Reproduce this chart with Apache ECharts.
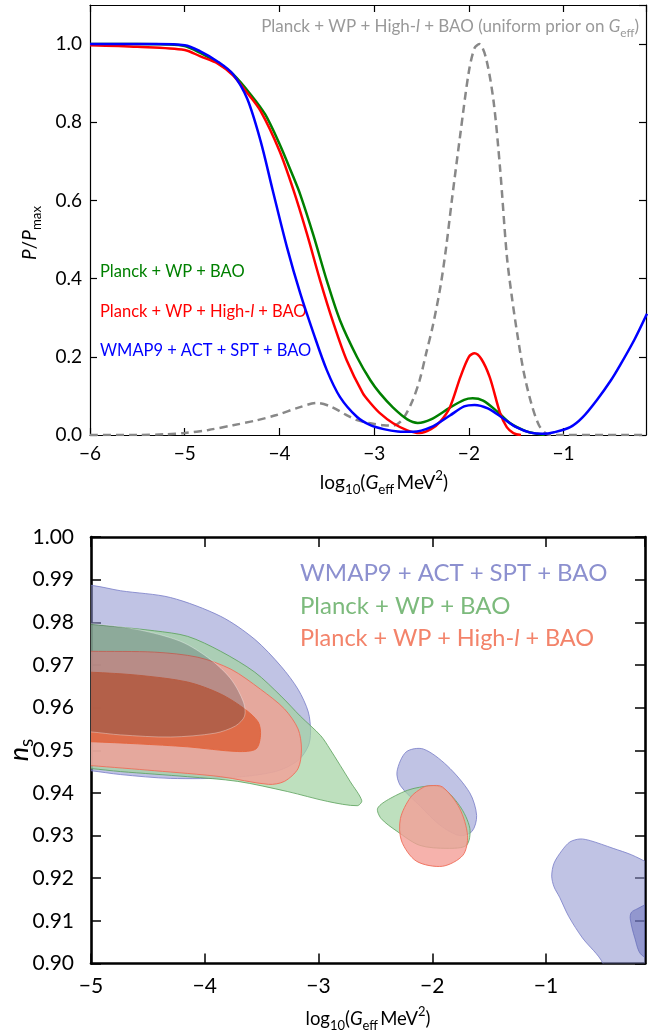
<!DOCTYPE html>
<html>
<head>
<meta charset="utf-8">
<script src="https://cdn.jsdelivr.net/npm/echarts@6/dist/echarts.min.js"></script>
<style>
  html, body { margin: 0; padding: 0; background: #fff; }
  #chart { width: 659px; height: 1033px; }
</style>
</head>
<body>
<div id="chart"></div>
<script>
// top panel: marginalised posteriors, [log10 Geff, P/Pmax]
const planckBao = [
  [-6, 1.0], [-5.5, 1.0], [-5.2, 0.999], [-5.0, 0.995], [-4.84, 0.978], [-4.65, 0.952],
  [-4.49, 0.923], [-4.3, 0.87], [-4.15, 0.82], [-4.0, 0.745], [-3.87, 0.67], [-3.78, 0.615],
  [-3.64, 0.51], [-3.5, 0.395], [-3.36, 0.293], [-3.18, 0.199], [-3.04, 0.14], [-2.94, 0.107],
  [-2.8, 0.07], [-2.65, 0.04], [-2.54, 0.031], [-2.4, 0.04], [-2.2, 0.07], [-2.05, 0.09],
  [-1.96, 0.094], [-1.85, 0.088], [-1.7, 0.06], [-1.57, 0.031], [-1.4, 0.01], [-1.28, 0.003], [-1.2, 0.0]
]
const planckHighL = [
  [-6, 0.997], [-5.5, 0.993], [-5.0, 0.985], [-4.84, 0.969], [-4.65, 0.95], [-4.49, 0.92],
  [-4.35, 0.878], [-4.2, 0.829], [-4.0, 0.727], [-3.85, 0.625], [-3.71, 0.515], [-3.57, 0.395],
  [-3.43, 0.286], [-3.29, 0.191], [-3.12, 0.107], [-3.04, 0.082], [-2.94, 0.056], [-2.8, 0.03],
  [-2.65, 0.012], [-2.52, 0.005], [-2.4, 0.015], [-2.3, 0.035], [-2.2, 0.071], [-2.09, 0.148],
  [-2.0, 0.2], [-1.94, 0.209], [-1.87, 0.195], [-1.78, 0.148], [-1.67, 0.056], [-1.6, 0.02],
  [-1.53, 0.005], [-1.45, 0.0]
]
const wmapActSpt = [
  [-6, 1.0], [-5.3, 1.0], [-5.0, 0.997], [-4.84, 0.982], [-4.65, 0.955], [-4.49, 0.923],
  [-4.34, 0.86], [-4.2, 0.753], [-4.07, 0.625], [-3.92, 0.48], [-3.78, 0.362], [-3.64, 0.26],
  [-3.5, 0.166], [-3.36, 0.097], [-3.18, 0.046], [-3.04, 0.025], [-2.9, 0.015], [-2.75, 0.009],
  [-2.59, 0.008], [-2.4, 0.02], [-2.2, 0.05], [-2.05, 0.073], [-1.94, 0.077], [-1.8, 0.068],
  [-1.64, 0.043], [-1.5, 0.02], [-1.35, 0.006], [-1.22, 0.003], [-1.1, 0.007], [-0.93, 0.02],
  [-0.8, 0.045], [-0.65, 0.089], [-0.5, 0.14], [-0.4, 0.18], [-0.25, 0.245], [-0.12, 0.31]
]
const uniformPrior = [
  [-6, 0.0], [-5.5, 0.0], [-5.2, 0.002], [-5.0, 0.005], [-4.75, 0.013], [-4.49, 0.025],
  [-4.25, 0.037], [-4.03, 0.051], [-3.8, 0.07], [-3.6, 0.082], [-3.45, 0.072], [-3.3, 0.052],
  [-3.18, 0.038], [-3.04, 0.03], [-2.9, 0.025], [-2.8, 0.024], [-2.7, 0.04], [-2.6, 0.085],
  [-2.52, 0.14], [-2.45, 0.21], [-2.38, 0.28], [-2.3, 0.38], [-2.24, 0.48], [-2.18, 0.6],
  [-2.09, 0.77], [-2.0, 0.93], [-1.94, 0.99], [-1.89, 1.0], [-1.82, 0.965], [-1.74, 0.855],
  [-1.67, 0.68], [-1.6, 0.46], [-1.55, 0.36], [-1.49, 0.26], [-1.42, 0.16], [-1.34, 0.08],
  [-1.26, 0.025], [-1.18, 0.003], [-1.1, 0.0], [-0.13, 0.0]
]

// bottom panel: contour outlines, [log10 Geff, n_s]
const wmapOuterLeft = [
  [-5.3, 0.9892], [-4.98, 0.9886], [-4.74, 0.9874], [-4.3, 0.9858], [-3.86, 0.9814], [-3.56, 0.976],
  [-3.33, 0.9697], [-3.18, 0.9643], [-3.09, 0.959], [-3.07, 0.9543], [-3.09, 0.951], [-3.18, 0.9476],
  [-3.38, 0.945], [-3.77, 0.9436], [-4.3, 0.9434], [-4.74, 0.9443], [-5.0, 0.9452], [-5.3, 0.946]
]
const wmapOuterMid = [
  [-2.31, 0.945], [-2.23, 0.9496], [-2.08, 0.9503], [-1.87, 0.9464], [-1.67, 0.94], [-1.61, 0.9347],
  [-1.65, 0.931], [-1.76, 0.930], [-1.93, 0.9324], [-2.11, 0.937], [-2.28, 0.9417]
]
const wmapOuterRight = [
  [-0.95, 0.9205], [-0.93, 0.9235], [-0.86, 0.9265], [-0.79, 0.9285], [-0.7, 0.9292], [-0.61, 0.9288],
  [-0.41, 0.927], [-0.25, 0.9255], [-0.1, 0.9235], [0.05, 0.921], [0.05, 0.89], [-0.42, 0.89],
  [-0.5, 0.9], [-0.68, 0.906], [-0.8, 0.911], [-0.88, 0.9155], [-0.93, 0.918]
]
const wmapInnerLeft = [
  [-5.3, 0.98], [-5.0, 0.9797], [-4.59, 0.9783], [-4.21, 0.9755], [-3.95, 0.9713], [-3.77, 0.9667],
  [-3.66, 0.9613], [-3.65, 0.958], [-3.73, 0.9557], [-3.91, 0.954], [-4.3, 0.9531], [-4.74, 0.9536],
  [-5.0, 0.9543], [-5.3, 0.9548]
]
const wmapInnerRight = [
  [-0.25, 0.912], [-0.2, 0.9128], [-0.1, 0.914], [0.05, 0.914], [0.05, 0.9], [-0.16, 0.902],
  [-0.22, 0.906], [-0.26, 0.9105]
]
const planckOuterLeft = [
  [-5.3, 0.98], [-5.0, 0.9795], [-4.44, 0.978], [-4.15, 0.9767], [-3.86, 0.9732], [-3.56, 0.9683],
  [-3.33, 0.9627], [-3.16, 0.958], [-2.98, 0.9534], [-2.9, 0.9503], [-2.72, 0.9426], [-2.62, 0.9382],
  [-2.66, 0.937], [-2.92, 0.938], [-3.27, 0.9403], [-3.71, 0.9427], [-4.15, 0.9438], [-4.74, 0.945],
  [-5.0, 0.9457], [-5.3, 0.9462]
]
const planckOuterMid = [
  [-2.48, 0.9364], [-2.37, 0.9387], [-2.17, 0.941], [-1.93, 0.9414], [-1.76, 0.937], [-1.67, 0.9317],
  [-1.7, 0.9277], [-1.87, 0.927], [-2.11, 0.9277], [-2.31, 0.931], [-2.45, 0.934]
]
const highLOuterLeft = [
  [-5.3, 0.9734], [-5.0, 0.9732], [-4.44, 0.973], [-4.06, 0.9718], [-3.77, 0.969], [-3.51, 0.9643],
  [-3.3, 0.9597], [-3.18, 0.955], [-3.15, 0.9503], [-3.18, 0.9457], [-3.3, 0.9427], [-3.44, 0.942],
  [-3.86, 0.9438], [-4.44, 0.9452], [-5.0, 0.9464], [-5.3, 0.947]
]
const highLOuterMid = [
  [-2.02, 0.9417], [-1.91, 0.9414], [-1.76, 0.9364], [-1.69, 0.930], [-1.73, 0.9254], [-1.91, 0.9228],
  [-2.14, 0.924], [-2.27, 0.9287], [-2.28, 0.934], [-2.19, 0.939], [-2.08, 0.9413]
]
const highLInnerLeft = [
  [-5.3, 0.9685], [-5.0, 0.9683], [-4.59, 0.9676], [-4.15, 0.966], [-3.86, 0.9632], [-3.65, 0.9597],
  [-3.53, 0.9566], [-3.51, 0.9534], [-3.55, 0.9503], [-3.71, 0.9497], [-4.15, 0.9508], [-4.59, 0.9515],
  [-5.0, 0.952], [-5.3, 0.9522]
]

const topXTicks = [-6, -5, -4, -3, -2, -1]
const bottomXTicks = [-5, -4, -3, -2, -1]

const FONT = 'Lato'
const P = '\u2005+\u2005'
const minus = (v) => (v < 0 ? '\u2212' + Math.abs(v) : String(v))
const rich = (size) => ({
  n: { fontSize: size, fontFamily: FONT, lineHeight: size + 8 },
  i: { fontSize: size, fontFamily: FONT, fontStyle: 'italic', lineHeight: size + 8 },
  sub: { fontSize: size * 0.7, fontFamily: FONT, verticalAlign: 'bottom', lineHeight: size * 0.7 + 2 },
  sup: { fontSize: size * 0.7, fontFamily: FONT, verticalAlign: 'top', lineHeight: size * 0.7 + 2 },
})
const xName = '{n|log}{sub|10}{n|(}{i|G}{sub|eff}{n|\u2009MeV}{sup|2}{n|)}'

const chart = echarts.init(document.getElementById('chart'))

const frameAxis = (extra) => Object.assign({
  type: 'value',
  axisLine: { show: true, onZero: false, lineStyle: { color: '#000', width: 1.2 } },
  axisTick: { show: true, inside: true, length: 7, lineStyle: { color: '#000', width: 1.2 } },
  axisLabel: { show: false },
  splitLine: { show: false },
}, extra)
const thickLine = { show: true, onZero: false, lineStyle: { color: '#000', width: 2.6 } }
const thickTick = { show: true, inside: true, length: 10, lineStyle: { color: '#000', width: 1.5 } }

const lineSeries = (data, color, dashed) => ({
  type: 'line',
  xAxisIndex: 0,
  yAxisIndex: 0,
  data: data,
  smooth: 0.3,
  showSymbol: false,
  clip: true,
  animation: false,
  lineStyle: { color: color, width: 2.5, type: dashed ? [8, 5] : 'solid' },
})

const polySeries = (pts, fill, stroke) => ({
  type: 'custom',
  xAxisIndex: 2,
  yAxisIndex: 2,
  clip: true,
  silent: true,
  animation: false,
  data: [pts[0]],
  renderItem: (params, api) => ({
    type: 'polygon',
    shape: { points: pts.map((p) => api.coord(p)), smooth: 0.3 },
    style: { fill: fill, stroke: stroke, lineWidth: 1 },
  }),
})

const blue95 = 'rgba(140,145,205,0.55)'
const green95 = 'rgba(162,211,162,0.7)'
const red95 = 'rgba(244,159,151,0.8)'
const red68 = 'rgba(220,92,50,0.78)'
const blue68 = 'rgba(50,60,70,0.25)'

chart.setOption({
  animation: false,
  grid: [
    { left: 90, top: 5, width: 556, height: 430 },
    { left: 91, top: 537, width: 554, height: 429 },
  ],
  xAxis: [
    frameAxis({
      gridIndex: 0, position: 'bottom', min: -6, max: -0.13, interval: 1,
      axisLabel: {
        show: true, showMaxLabel: false, margin: 9, color: '#000', fontFamily: FONT, fontSize: 19,
        formatter: (v) => (topXTicks.includes(v) ? minus(v) : ''),
      },
    }),
    frameAxis({ gridIndex: 0, position: 'top', min: -6, max: -0.13, interval: 1 }),
    frameAxis({
      gridIndex: 1, position: 'bottom', min: -5, max: -0.13, interval: 1,
      axisLine: thickLine, axisTick: thickTick,
      axisLabel: {
        show: true, showMaxLabel: false, margin: 12, color: '#000', fontFamily: FONT, fontSize: 21,
        formatter: (v) => (bottomXTicks.includes(v) ? minus(v) : ''),
      },
      name: xName, nameLocation: 'middle', nameGap: 42,
      nameTextStyle: { color: '#000', rich: rich(18.5) },
    }),
    frameAxis({
      gridIndex: 1, position: 'top', min: -5, max: -0.13, interval: 1,
      axisLine: thickLine, axisTick: thickTick,
    }),
  ],
  yAxis: [
    frameAxis({
      gridIndex: 0, position: 'left', min: 0, max: 1.1, interval: 0.2,
      axisLabel: {
        show: true, showMaxLabel: false, margin: 8, color: '#000', fontFamily: FONT, fontSize: 19,
        formatter: (v) => (v <= 1.0001 ? v.toFixed(1) : ''),
      },
    }),
    frameAxis({ gridIndex: 0, position: 'right', min: 0, max: 1.1, interval: 0.2 }),
    frameAxis({
      gridIndex: 1, position: 'left', min: 0.9, max: 1.0, interval: 0.01,
      axisLine: thickLine, axisTick: thickTick,
      axisLabel: {
        show: true, margin: 17, color: '#000', fontFamily: FONT, fontSize: 21,
        formatter: (v) => v.toFixed(2),
      },
    }),
    frameAxis({
      gridIndex: 1, position: 'right', min: 0.9, max: 1.0, interval: 0.01,
      axisLine: thickLine, axisTick: thickTick,
    }),
  ],
  series: [
    lineSeries(uniformPrior, '#888888', true),
    lineSeries(planckBao, '#008000'),
    lineSeries(planckHighL, '#ff0000'),
    lineSeries(wmapActSpt, '#0000ff'),
    polySeries(wmapOuterLeft, blue95, 'rgba(120,125,200,0.8)'),
    polySeries(wmapOuterMid, blue95, 'rgba(120,125,200,0.8)'),
    polySeries(wmapOuterRight, blue95, 'rgba(120,125,200,0.8)'),
    polySeries(planckOuterLeft, green95, 'rgba(90,160,90,0.8)'),
    polySeries(planckOuterMid, green95, 'rgba(90,160,90,0.8)'),
    polySeries(highLOuterLeft, red95, 'rgba(240,110,90,0.9)'),
    polySeries(highLOuterMid, red95, 'rgba(240,110,90,0.9)'),
    polySeries(highLInnerLeft, red68, 'rgba(230,100,60,0.9)'),
    polySeries(wmapInnerLeft, blue68, 'rgba(255,255,255,0.35)'),
    polySeries(wmapInnerRight, 'rgba(90,98,180,0.45)', 'rgba(90,98,180,0.6)'),
  ],
  graphic: [
    {
      type: 'text', x: 639, y: 27,
      style: {
        text: '{n|Planck' + P + 'WP' + P + 'High-}{i|l}{n|' + P + 'BAO (uniform prior on }{i|G}{sub|eff}{n|)}',
        fill: '#999999', align: 'right', verticalAlign: 'middle',
        rich: rich(17),
      },
    },
    {
      type: 'text', x: 100, y: 272,
      style: { text: 'Planck' + P + 'WP' + P + 'BAO', fill: '#008000', font: '16.5px ' + FONT, verticalAlign: 'middle' },
    },
    {
      type: 'text', x: 100, y: 312,
      style: { text: '{n|Planck' + P + 'WP' + P + 'High-}{i|l}{n|' + P + 'BAO}', fill: '#ff0000', verticalAlign: 'middle', rich: rich(16.5) },
    },
    {
      type: 'text', x: 100, y: 351,
      style: { text: 'WMAP9' + P + 'ACT' + P + 'SPT' + P + 'BAO', fill: '#0000ff', font: '16.5px ' + FONT, verticalAlign: 'middle' },
    },
    {
      type: 'text', x: 300, y: 573,
      style: { text: 'WMAP9' + P + 'ACT' + P + 'SPT' + P + 'BAO', fill: '#8c90cf', font: '24px ' + FONT, verticalAlign: 'middle' },
    },
    {
      type: 'text', x: 300, y: 606,
      style: { text: 'Planck' + P + 'WP' + P + 'BAO', fill: '#7cba7c', font: '24px ' + FONT, verticalAlign: 'middle' },
    },
    {
      type: 'text', x: 300, y: 638,
      style: { text: '{n|Planck' + P + 'WP' + P + 'High-}{i|l}{n|' + P + 'BAO}', fill: '#f3836a', verticalAlign: 'middle', rich: rich(23.5) },
    },
    {
      type: 'text', x: 384, y: 483,
      style: { text: xName, fill: '#000', align: 'center', verticalAlign: 'middle', rich: rich(19) },
    },
    {
      type: 'text', x: 30, y: 233, rotation: Math.PI / 2,
      style: { text: '{i|P}{n|/}{i|P}{sub|max}', fill: '#000', align: 'center', verticalAlign: 'middle', rich: rich(19) },
    },
    {
      type: 'text', x: 19, y: 750, rotation: Math.PI / 2,
      style: { text: '{i|n}{sub|s}', fill: '#000', align: 'center', verticalAlign: 'middle', rich: rich(27) },
    },
  ],
})
</script>
</body>
</html>
